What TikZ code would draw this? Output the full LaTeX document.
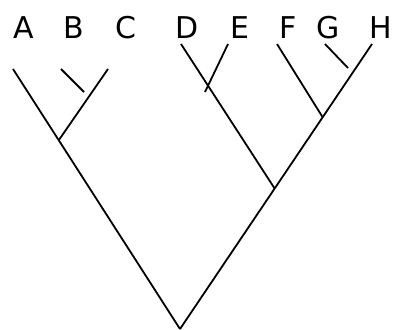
\documentclass[tikz,border=0pt]{standalone}
\usepackage{fontspec}
\setmainfont{DejaVu Sans}
\usepackage{tikz}
\usetikzlibrary{calc}

\begin{document}
\begin{tikzpicture}[
  x=1pt, y=-1pt,
  leaf/.style={inner sep=0pt, anchor=base, font=\fontsize{30}{32}\selectfont},
  branch/.style={draw, line width=1.8pt, line cap=butt}
]
\useasboundingbox (0,0) rectangle (393,329);

% Leaf labels
\node[leaf] (a) at (23.5,38) {A};
\node[leaf] (b) at (73.5,38) {B};
\node[leaf] (c) at (125.5,38) {C};
\node[leaf] (d) at (187,38) {D};
\node[leaf] (e) at (239.5,38) {E};
\node[leaf] (f) at (288.5,38) {F};
\node[leaf] (g) at (328,38) {G};
\node[leaf] (h) at (381,38) {H};

% Branch ends
\coordinate (root) at (180,329);
\coordinate (a-top) at (13,69);
\coordinate (b-top) at (61,69);
\coordinate (b-end) at (84,92);
\coordinate (c-top) at (108,69);
\coordinate (d-top) at (181,44);
\coordinate (e-top) at (228,44);
\coordinate (e-end) at (205,92);
\coordinate (f-top) at (277,44);
\coordinate (g-top) at (325,44);
\coordinate (g-end) at (348,68);
\coordinate (h-top) at (372,44);

% Joins
\coordinate (ac) at ($(a-top)!0.274!(root)$);
\coordinate (fh) at ($(h-top)!0.257!(root)$);
\coordinate (dh) at ($(h-top)!0.507!(root)$);

% Branches
\draw[branch] (a-top) -- (root);
\draw[branch] (h-top) -- (root);
\draw[branch] (c-top) -- (ac);
\draw[branch] (b-top) -- (b-end);
\draw[branch] (d-top) -- (dh);
\draw[branch] (e-top) -- (e-end);
\draw[branch] (f-top) -- (fh);
\draw[branch] (g-top) -- (g-end);

\end{tikzpicture}
\end{document}
